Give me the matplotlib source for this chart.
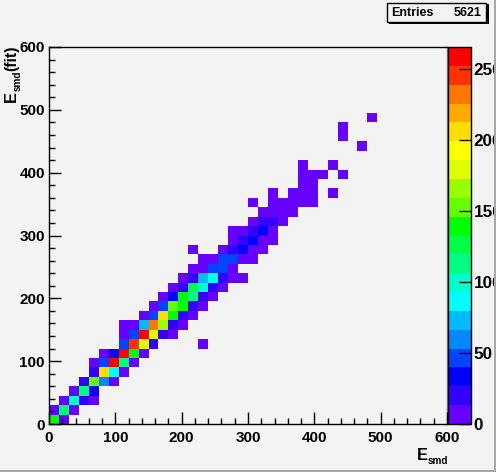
import numpy as np
import matplotlib
matplotlib.use("Agg")
import matplotlib.pyplot as plt
from matplotlib.colors import ListedColormap, BoundaryNorm
from matplotlib.patches import Rectangle

plt.rcParams['font.family'] = ['Liberation Sans', 'DejaVu Sans']
plt.rcParams['font.weight'] = 'bold'

# Bin contents: (column index, count) per row of 15x15 bins
row_00 = [(0, 146), (1, 7)]
row_01 = [(0, 7), (1, 113), (2, 7)]
row_02 = [(1, 7), (2, 100), (3, 20), (4, 7)]
row_03 = [(2, 7), (3, 113), (4, 33)]
row_04 = [(3, 20), (4, 153), (5, 60), (6, 7)]
row_05 = [(4, 20), (5, 206), (6, 86), (7, 7)]
row_06 = [(4, 7), (5, 40), (6, 260), (7, 113), (8, 7)]
row_07 = [(5, 7), (6, 33), (7, 260), (8, 140), (9, 7)]
row_08 = [(7, 47), (8, 246), (9, 180), (10, 20), (15, 7)]
row_09 = [(7, 7), (8, 47), (9, 260), (10, 180), (11, 20), (12, 7)]
row_10 = [(7, 7), (8, 7), (9, 73), (10, 233), (11, 166), (12, 20), (13, 7)]
row_11 = [(9, 7), (10, 47), (11, 206), (12, 140), (13, 20), (14, 7)]
row_12 = [(10, 7), (11, 40), (12, 153), (13, 140), (14, 20), (15, 7)]
row_13 = [(11, 7), (12, 33), (13, 140), (14, 113), (15, 20), (16, 7)]
row_14 = [(12, 7), (13, 20), (14, 126), (15, 100), (16, 20), (17, 7)]
row_15 = [(13, 7), (14, 20), (15, 73), (16, 86), (17, 20), (18, 7), (19, 7)]
row_16 = [(14, 7), (15, 7), (16, 47), (17, 47), (18, 7)]
row_17 = [(15, 7), (16, 7), (17, 47), (18, 47), (19, 7), (20, 7)]
row_18 = [(14, 7), (17, 7), (18, 20), (19, 33), (20, 7), (21, 7)]
row_19 = [(18, 7), (19, 20), (20, 33), (21, 7), (22, 7)]
row_20 = [(18, 7), (19, 7), (20, 20), (21, 33), (22, 7)]
row_21 = [(20, 7), (21, 20), (22, 20), (23, 7)]
row_22 = [(21, 7), (22, 7), (23, 7), (24, 7)]
row_23 = [(20, 7), (22, 7), (23, 7), (24, 7), (25, 7), (26, 7)]
row_24 = [(22, 7), (24, 7), (25, 7), (26, 7), (28, 7)]
row_25 = [(25, 7), (26, 7)]
row_26 = [(25, 7), (26, 7), (27, 7), (29, 7)]
row_27 = [(25, 7), (28, 7)]
row_29 = [(31, 7)]
row_30 = [(29, 7)]
row_31 = [(29, 7)]
row_32 = [(32, 7)]
rows = {0: row_00, 1: row_01, 2: row_02, 3: row_03, 4: row_04, 5: row_05, 6: row_06,
        7: row_07, 8: row_08, 9: row_09, 10: row_10, 11: row_11, 12: row_12, 13: row_13,
        14: row_14, 15: row_15, 16: row_16, 17: row_17, 18: row_18, 19: row_19, 20: row_20,
        21: row_21, 22: row_22, 23: row_23, 24: row_24, 25: row_25, 26: row_26, 27: row_27,
        29: row_29, 30: row_30, 31: row_31, 32: row_32}

palette = ['#6600ff', '#3300ff', '#0000ff', '#0044ff', '#0088ff', '#00bbff', '#00ffff',
           '#00ffcc', '#00ff80', '#00ff44', '#00ff00', '#66ff00', '#99ff00', '#ddff00',
           '#ffff00', '#ffdd00', '#ffaa00', '#ff7700', '#ff3300', '#ff0000']
z_max = 265.5
x_ticks = [0, 100, 200, 300, 400, 500, 600]
z_ticks = [0, 50, 100, 150, 200, 250]
entries = 5621

W, H = 496, 472
BG = '#f3f3f3'
fig = plt.figure(figsize=(W / 100, H / 100), dpi=100, facecolor=BG)

def box(x0, y0, x1, y1):
    return [x0 / W, 1 - y1 / H, (x1 - x0) / W, (y1 - y0) / H]

ax = fig.add_axes(box(49, 47, 447, 424), facecolor=BG)
edges = np.linspace(0, 600, 41)
grid = np.full((40, 40), np.nan)
for r, cells in rows.items():
    for c, n in cells:
        grid[r, c] = n
cmap = ListedColormap(palette)
norm = BoundaryNorm(np.linspace(0, z_max, len(palette) + 1), cmap.N)
mesh = ax.pcolormesh(edges, edges, np.ma.masked_invalid(grid), cmap=cmap, norm=norm)

ax.set_xlim(0, 600)
ax.set_ylim(0, 600)
ax.set_xticks(x_ticks)
ax.set_yticks(x_ticks)
ax.set_xticks(np.arange(0, 601, 20), minor=True)
ax.set_yticks(np.arange(0, 601, 20), minor=True)
ax.tick_params(which='major', direction='in', length=8.6, width=1.0, color='black', labelsize=11)
ax.tick_params(which='minor', direction='in', length=4.3, width=1.0, color='black')
ax.tick_params(axis='x', which='major', pad=5)
ax.tick_params(axis='y', which='major', pad=3)
ax.set_axisbelow(False)
for s in ['left', 'bottom', 'top']:
    ax.spines[s].set_linewidth(1.0)
ax.spines['right'].set_color('#808080')
ax.spines['right'].set_linewidth(1.0)

# Axis titles with a hand-placed subscript
fig.text(416.5 / W, 1 - 459.5 / H, 'E', fontsize=11.8, ha='left', va='baseline')
fig.text(427.5 / W, 1 - 464 / H, 'smd', fontsize=7.2, ha='left', va='baseline')
fig.text(16 / W, 1 - 101.5 / H, 'E', fontsize=11.8, rotation=90, ha='left', va='baseline',
         rotation_mode='anchor')
fig.text(20.5 / W, 1 - 91 / H, 'smd', fontsize=7.2, rotation=90, ha='left', va='baseline',
         rotation_mode='anchor')
fig.text(16 / W, 1 - 71 / H, '(fit)', fontsize=11.3, rotation=90, ha='left', va='baseline',
         rotation_mode='anchor')

cax = fig.add_axes(box(448, 47, 471, 424))
cb = fig.colorbar(mesh, cax=cax, spacing='proportional', ticks=z_ticks)
cb.outline.set_linewidth(1.0)
cb.minorticks_off()
cax.tick_params(axis='y', which='major', direction='in', right=True, left=False, labelright=True,
                labelleft=False, length=8.6, width=1.0, labelsize=12.3, pad=2)

# Statistics box with drop shadow
fig.add_artist(Rectangle((389 / W, 1 - 24 / H), 100 / W, 20 / H, transform=fig.transFigure,
                         facecolor='black', edgecolor='none'))
fig.add_artist(Rectangle((387 / W, 1 - 21.5 / H), 99 / W, 18.5 / H, transform=fig.transFigure,
                         facecolor=BG, edgecolor='black', linewidth=1.0))
fig.text(391 / W, 1 - 16.5 / H, 'Entries', fontsize=9, ha='left', va='baseline')
fig.text(482 / W, 1 - 16.5 / H, str(entries), fontsize=9, ha='right', va='baseline')

# Canvas bevel on the right and bottom edges
fig.add_artist(Rectangle((0, 0), 1, 2.5 / H, transform=fig.transFigure, facecolor='#a8a8a8', edgecolor='none'))
fig.add_artist(Rectangle((1 - 2.5 / W, 0), 2.5 / W, 1, transform=fig.transFigure, facecolor='#a8a8a8', edgecolor='none'))

fig.savefig('out.png', dpi=100, facecolor=BG)
